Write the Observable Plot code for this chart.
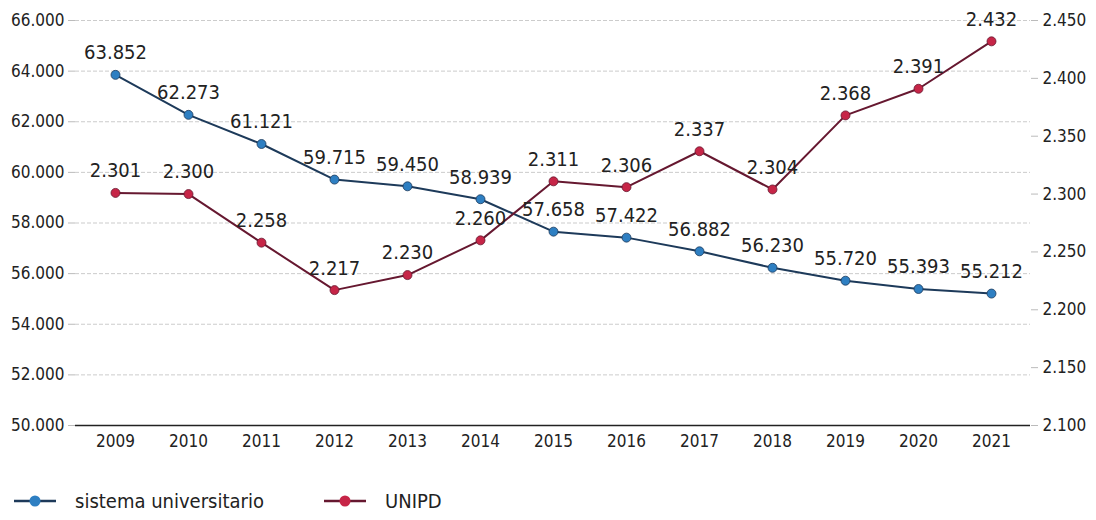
<!DOCTYPE html>
<html>
<head>
<meta charset="utf-8">
<script src="https://cdn.jsdelivr.net/npm/d3@7"></script>
<script src="https://cdn.jsdelivr.net/npm/@observablehq/plot@0.6"></script>
<style>
  html, body { margin: 0; padding: 0; background: #fff; }
  body { width: 1096px; height: 520px; overflow: hidden; font-family: "Liberation Sans Narrow", "DejaVu Sans Condensed", "Arial Narrow", sans-serif; color: #222; }
  #legend { position: relative; height: 40px; margin-top: 16px; font-size: 20px; }
  .item { position: absolute; top: 0; display: flex; align-items: center; height: 30px; }
  .item svg { margin-right: 18px; }
</style>
</head>
<body>
<div id="chart"></div>
<div id="legend"></div>
<script>
const years = [2009, 2010, 2011, 2012, 2013, 2014, 2015, 2016, 2017, 2018, 2019, 2020, 2021];
const sistema = [63852, 62273, 61121, 59715, 59450, 58939, 57658, 57422, 56882, 56230, 55720, 55393, 55212];
const unipd = [2301, 2300, 2258, 2217, 2230, 2260, 2311, 2306, 2337, 2304, 2368, 2391, 2432];
const leftTicks = [50000, 52000, 54000, 56000, 58000, 60000, 62000, 64000, 66000];
const rightTicks = [2100, 2150, 2200, 2250, 2300, 2350, 2400, 2450];
const seriesNames = ["sistema universitario", "UNIPD"];
const lineColors = ["#1d3a5a", "#661830"];
const dotColors = ["#2e7fc2", "#c62547"];

const leftMin = 50000, leftMax = 66000, rightMin = 2100, rightMax = 2450;
const toLeft = r => leftMin + (r - rightMin) * (leftMax - leftMin) / (rightMax - rightMin);
const fromLeft = l => rightMin + (l - leftMin) * (rightMax - rightMin) / (leftMax - leftMin);

const it = d3.formatLocale({decimal: ",", thousands: ".", grouping: [3], currency: ["", "€"]});
const fmt = it.format(",d");

const blue = years.map((y, i) => ({year: String(y), v: sistema[i], label: fmt(sistema[i])}));
const red = years.map((y, i) => ({year: String(y), v: toLeft(unipd[i]), label: fmt(unipd[i])}));

const font = '"Liberation Sans Narrow", "DejaVu Sans Condensed", "Arial Narrow", sans-serif';

const chart = Plot.plot({
  width: 1096,
  height: 470,
  marginLeft: 75,
  marginRight: 66,
  marginTop: 20,
  marginBottom: 45,
  style: {fontFamily: font, fontSize: "17px", color: "#222", background: "#fff"},
  x: {type: "point", domain: years.map(String), padding: 0.53, label: null},
  y: {domain: [leftMin, leftMax], label: null},
  marks: [
    Plot.ruleY(leftTicks.slice(1), {stroke: "#999", strokeOpacity: 0.5, strokeWidth: 1, strokeDasharray: "4,2"}),
    Plot.ruleY([leftMin], {stroke: "#222", strokeWidth: 1.5}),
    Plot.axisY({ticks: leftTicks, tickFormat: fmt, tickSize: 7, tickPadding: 4, stroke: "#bbb", fontSize: 17, label: null}),
    Plot.axisY({anchor: "right", ticks: rightTicks.map(toLeft), tickFormat: d => fmt(Math.round(fromLeft(d))), tickSize: 7, tickPadding: 5, stroke: "#bbb", fontSize: 17, label: null}),
    Plot.axisX({tickSize: 0, tickPadding: 9, fontSize: 17, label: null}),
    Plot.line(blue, {x: "year", y: "v", stroke: lineColors[0], strokeWidth: 2}),
    Plot.line(red, {x: "year", y: "v", stroke: lineColors[1], strokeWidth: 2}),
    Plot.dot(blue, {x: "year", y: "v", r: 4.5, fill: dotColors[0], stroke: lineColors[0], strokeWidth: 0.8}),
    Plot.dot(red, {x: "year", y: "v", r: 4.5, fill: dotColors[1], stroke: lineColors[1], strokeWidth: 0.8}),
    Plot.text(blue, {x: "year", y: "v", text: "label", dy: -22, fill: "#222", fontSize: 20}),
    Plot.text(red, {x: "year", y: "v", text: "label", dy: -22, fill: "#222", fontSize: 20})
  ]
});
document.getElementById("chart").appendChild(chart);

const legend = document.getElementById("legend");
const lefts = [13, 323];
seriesNames.forEach((name, i) => {
  const d = document.createElement("div");
  d.className = "item";
  d.style.left = lefts[i] + "px";
  d.innerHTML = `<svg width="44" height="14"><line x1="1" y1="7" x2="43" y2="7" stroke="${lineColors[i]}" stroke-width="2.5"/><circle cx="22" cy="7" r="5.5" fill="${dotColors[i]}"/></svg><span>${name}</span>`;
  legend.appendChild(d);
});
</script>
</body>
</html>
